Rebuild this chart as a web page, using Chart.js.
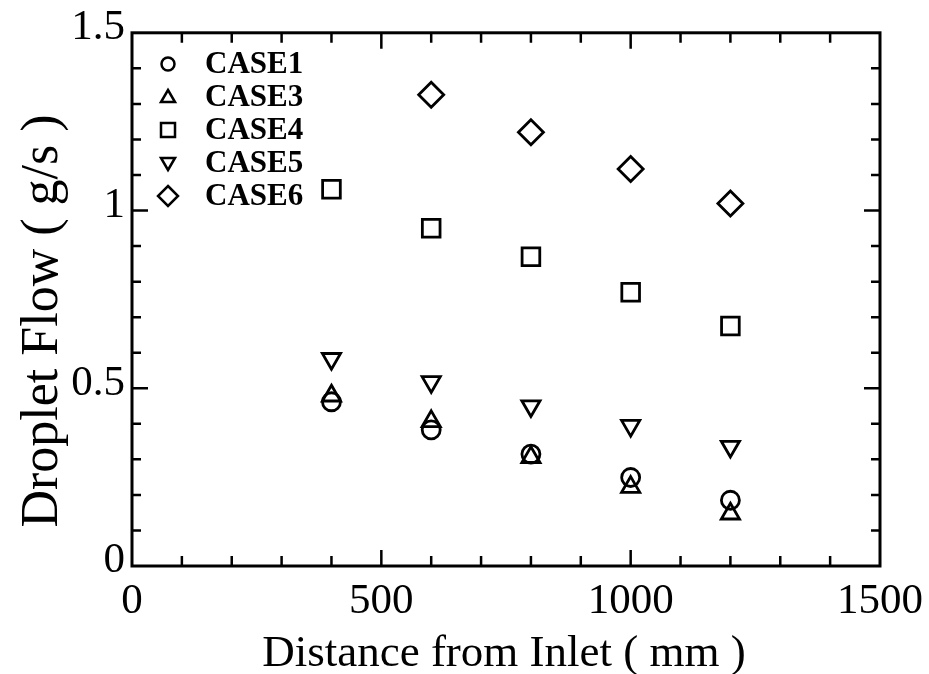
<!DOCTYPE html>
<html>
<head>
<meta charset="utf-8">
<script src="https://cdn.jsdelivr.net/npm/chart.js@4/dist/chart.umd.min.js"></script>
<style>
  html, body { margin: 0; padding: 0; background: #fff; }
  #wrap { width: 929px; height: 674px; }
</style>
</head>
<body>
<div id="wrap"><canvas id="c" width="929" height="674"></canvas></div>
<script>
// Droplet flow (g/s) measured at each distance from the inlet (mm)
const distances = [400, 600, 800, 1000, 1200];
const case1 = [0.462, 0.383, 0.315, 0.249, 0.185];
const case3 = [0.479, 0.407, 0.306, 0.222, 0.147];
const case4 = [1.06, 0.95, 0.87, 0.77, 0.675];
const case5 = [0.583, 0.518, 0.45, 0.395, 0.336];
const case6 = [null, 1.326, 1.22, 1.117, 1.02];

const seriesNames = ['CASE1', 'CASE3', 'CASE4', 'CASE5', 'CASE6'];
const xTicks = [0, 500, 1000, 1500];
const yTicks = [0, 0.5, 1, 1.5];
const xTitle = 'Distance from Inlet ( mm )';
const yTitle = 'Droplet Flow ( g/s )';

const FONT = '"Liberation Serif", "Times New Roman", serif';

function toPoints(values) {
  const pts = [];
  values.forEach((v, i) => { if (v !== null) pts.push({ x: distances[i], y: v }); });
  return pts;
}

const markerStyles = [
  { pointStyle: 'circle', radius: 9, rotation: 0 },
  { pointStyle: 'triangle', radius: 10.5, rotation: 0 },
  { pointStyle: 'rect', radius: 12.5, rotation: 0 },
  { pointStyle: 'triangle', radius: 10.5, rotation: 180 },
  { pointStyle: 'rectRot', radius: 12.5, rotation: 0 }
];

const allSeries = [case1, case3, case4, case5, case6];
const datasets = allSeries.map((vals, i) => ({
  label: seriesNames[i],
  data: toPoints(vals),
  showLine: false,
  pointStyle: markerStyles[i].pointStyle,
  pointRadius: markerStyles[i].radius,
  pointHoverRadius: markerStyles[i].radius,
  pointRotation: markerStyles[i].rotation,
  pointBorderWidth: 2.8,
  pointBorderColor: '#000',
  pointBackgroundColor: 'rgba(0,0,0,0)'
}));

// Small legend glyphs drawn beside the series names
function drawGlyph(ctx, style, x, y) {
  ctx.beginPath();
  if (style === 'circle') {
    ctx.arc(x, y, 6.5, 0, Math.PI * 2);
  } else if (style === 'up') {
    ctx.moveTo(x, y - 7); ctx.lineTo(x + 7, y + 5); ctx.lineTo(x - 7, y + 5); ctx.closePath();
  } else if (style === 'down') {
    ctx.moveTo(x, y + 7); ctx.lineTo(x + 7, y - 5); ctx.lineTo(x - 7, y - 5); ctx.closePath();
  } else if (style === 'square') {
    ctx.rect(x - 7, y - 7, 14, 14);
  } else if (style === 'diamond') {
    ctx.moveTo(x, y - 10); ctx.lineTo(x + 10, y); ctx.lineTo(x, y + 10); ctx.lineTo(x - 10, y); ctx.closePath();
  }
  ctx.stroke();
}

const framePlugin = {
  id: 'frameAndTicks',
  afterDraw(chart) {
    const { ctx, chartArea: a, scales } = chart;
    const xs = scales.x, ys = scales.y;
    ctx.save();
    ctx.strokeStyle = '#000';
    ctx.lineWidth = 3;
    ctx.lineCap = 'butt';
    ctx.strokeRect(a.left, a.top, a.right - a.left, a.bottom - a.top);

    ctx.lineWidth = 2.5;
    // inward ticks on all four sides
    for (let v = 100; v < 1500; v += 100) {
      const px = xs.getPixelForValue(v);
      const len = (v % 500 === 0) ? 16 : 10;
      ctx.beginPath();
      ctx.moveTo(px, a.bottom); ctx.lineTo(px, a.bottom - len);
      ctx.moveTo(px, a.top); ctx.lineTo(px, a.top + len);
      ctx.stroke();
    }
    for (let k = 1; k < 15; k++) {
      const py = ys.getPixelForValue(k / 10);
      const len = (k % 5 === 0) ? 16 : 9;
      ctx.beginPath();
      ctx.moveTo(a.left, py); ctx.lineTo(a.left + len, py);
      ctx.moveTo(a.right, py); ctx.lineTo(a.right - len, py);
      ctx.stroke();
    }

    // axis titles
    ctx.fillStyle = '#000';
    ctx.textAlign = 'center';
    ctx.textBaseline = 'alphabetic';
    ctx.font = '45px ' + FONT;
    ctx.fillText(xTitle, (a.left + a.right) / 2 - 2, 666);
    ctx.save();
    ctx.translate(57, 321);
    ctx.rotate(-Math.PI / 2);
    ctx.font = '52px ' + FONT;
    ctx.fillText(yTitle, 0, 0);
    ctx.restore();

    // legend
    const glyphs = ['circle', 'up', 'square', 'down', 'diamond'];
    ctx.lineWidth = 2.5;
    ctx.font = 'bold 31px ' + FONT;
    ctx.textBaseline = 'middle';
    ctx.textAlign = 'left';
    seriesNames.forEach((name, i) => {
      const y = 64 + i * 33;
      drawGlyph(ctx, glyphs[i], 168, y);
      ctx.fillText(name, 205, y + 1);
    });
    ctx.restore();
  }
};

new Chart(document.getElementById('c'), {
  type: 'scatter',
  data: { datasets },
  options: {
    responsive: false,
    animation: false,
    devicePixelRatio: 1,
    layout: { padding: { top: 30, right: 49, left: 0, bottom: 0 } },
    plugins: { legend: { display: false }, tooltip: { enabled: false } },
    scales: {
      x: {
        type: 'linear',
        min: 0, max: 1500,
        afterFit(scale) { scale.height = 108; scale.paddingRight = 0; scale.paddingLeft = 0; },
        afterBuildTicks(scale) { scale.ticks = xTicks.map(v => ({ value: v })); },
        grid: { display: false, drawTicks: false },
        border: { display: false },
        ticks: {
          color: '#000', padding: 10,
          font: { family: FONT, size: 43 },
          callback: v => String(v)
        },
        title: { display: false }
      },
      y: {
        type: 'linear',
        min: 0, max: 1.5,
        afterFit(scale) { scale.width = 132; },
        afterBuildTicks(scale) { scale.ticks = yTicks.map(v => ({ value: v })); },
        grid: { display: false, drawTicks: false },
        border: { display: false },
        ticks: {
          color: '#000', padding: 7, labelOffset: -5,
          font: { family: FONT, size: 43 },
          callback: v => String(v)
        },
        title: { display: false }
      }
    }
  },
  plugins: [framePlugin]
});
</script>
</body>
</html>
